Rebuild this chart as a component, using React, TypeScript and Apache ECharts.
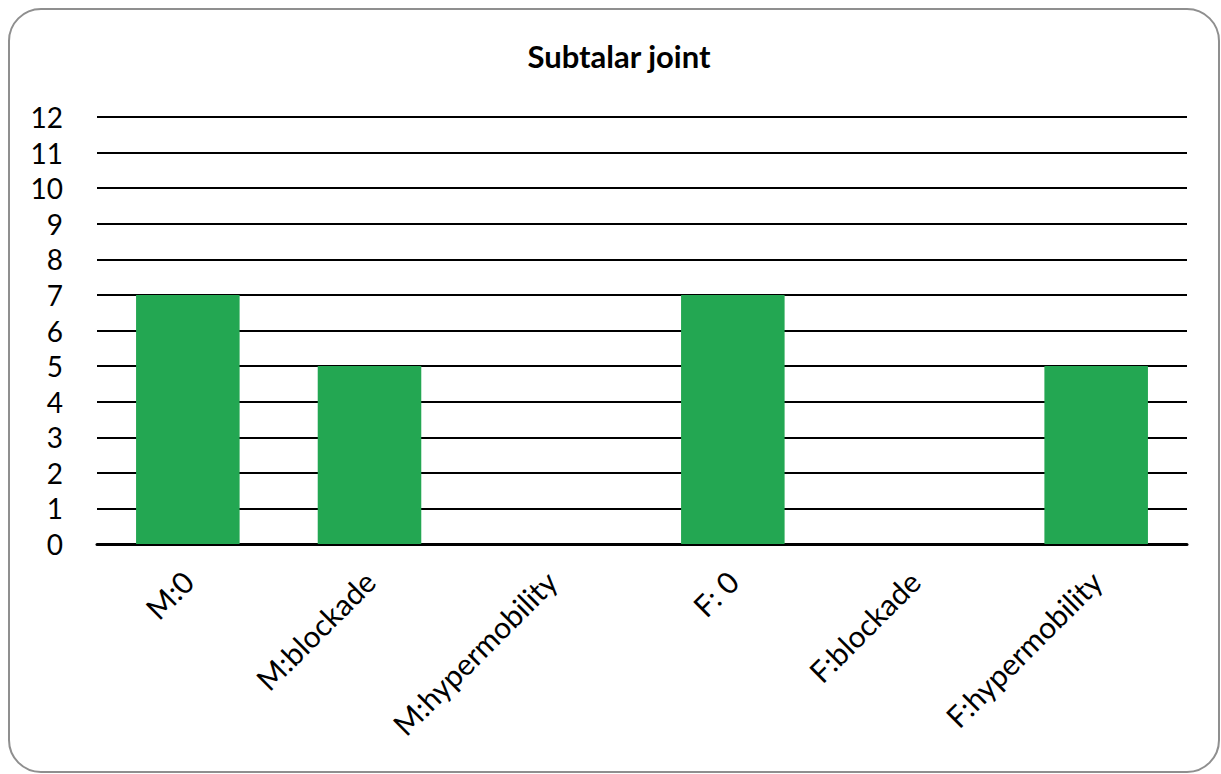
import React, { useEffect, useRef } from "react";
import * as echarts from "echarts";

const title = "Subtalar joint";
const categories = ["M:0", "M:blockade", "M:hypermobility", "F: 0", "F:blockade", "F:hypermobility"];
const values = [7, 5, 0, 7, 0, 5];
const yMin = 0;
const yMax = 12;
const yInterval = 1;

export default function App() {
  const ref = useRef<HTMLDivElement>(null);
  useEffect(() => {
    const chart = echarts.init(ref.current!, null, { renderer: "svg" });
    const font = "Lato, 'Open Sans', sans-serif";
    chart.setOption({
      animation: false,
      backgroundColor: "#ffffff",
      title: {
        text: title,
        left: 614,
        top: 35,
        textAlign: "center",
        textStyle: { fontFamily: font, fontSize: 31, fontWeight: "bold", color: "#000" },
      },
      graphic: [
        {
          type: "rect",
          shape: { x: 9, y: 9, width: 1210, height: 763, r: 32 },
          style: { fill: "none", stroke: "#8f8f8f", lineWidth: 2 },
          z: 100,
        },
      ],
      grid: { left: 97, right: 34, top: 117, bottom: 230, containLabel: false },
      xAxis: {
        type: "category",
        data: categories,
        axisLine: { lineStyle: { color: "#000", width: 3 } },
        axisTick: { show: false },
        axisLabel: {
          rotate: 45,
          interval: 0,
          margin: 32,
          fontFamily: font,
          fontSize: 30,
          color: "#000",
        },
      },
      yAxis: {
        type: "value",
        min: yMin,
        max: yMax,
        interval: yInterval,
        axisLine: { show: false },
        axisTick: { show: false },
        splitLine: { lineStyle: { color: "#000", width: 2 } },
        axisLabel: { margin: 34, fontFamily: font, fontSize: 28, color: "#000" },
      },
      series: [
        {
          type: "bar",
          data: values,
          barWidth: "57%",
          itemStyle: { color: "#23a752" },
        },
      ],
    });
    return () => chart.dispose();
  }, []);
  return <div ref={ref} style={{ position: "absolute", left: 0, top: 0, width: 1221, height: 774 }} />;
}
